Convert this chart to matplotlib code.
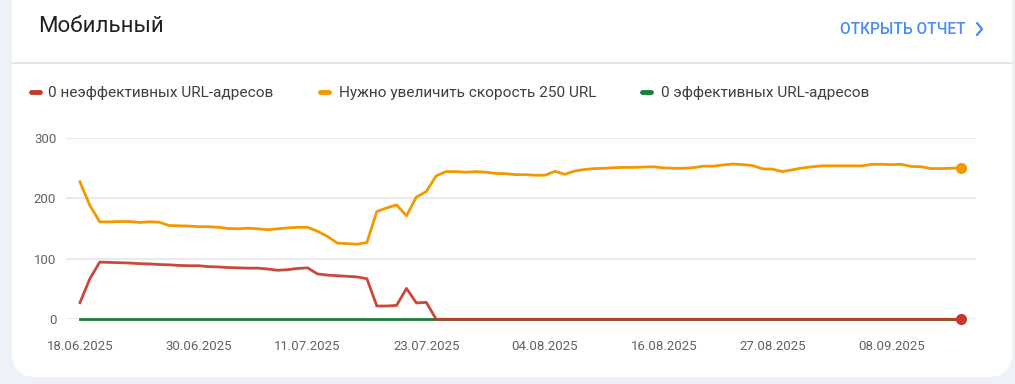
import matplotlib
matplotlib.use("Agg")
import matplotlib.pyplot as plt
import matplotlib.dates as mdates
from matplotlib.patches import FancyBboxPatch
import pandas as pd

# ---- data ----
start_date = "2025-06-18"
n_days = 90
orange_vals = [227, 188, 161, 161, 161.5, 161.5, 160, 161, 160.5, 155,
               154.5, 154, 153, 153, 152, 150, 149.5, 150.5, 149.5, 148,
               149.5, 151, 152, 152, 145.5, 137, 126, 125, 124, 127,
               178, 184, 189, 171, 202, 211, 237, 244, 244, 243,
               244, 243, 241, 240.5, 239, 239, 238, 238, 244.5, 239.5,
               245, 247.5, 249, 249.5, 250.5, 251, 251, 251.5, 252, 250,
               249.5, 249.5, 250.5, 253, 253, 255, 256.5, 255.5, 254, 248.5,
               248, 244, 247, 250, 252, 253.5, 253.5, 253.5, 253.5, 253.5,
               256, 256, 255.5, 256, 252.5, 252, 249, 249, 249.5, 250]
red_vals = [27.5, 67, 94.5, 94, 93.5, 93, 92, 91.5, 90.5, 90,
            89, 88.5, 88.5, 87, 86.5, 85.5, 85, 84.5, 84.5, 83,
            81, 82, 84, 85, 75, 73, 72, 71, 70, 67,
            22, 22, 23, 51, 27, 28] + [0] * 54
green_vals = [0] * 90
tick_dates = ["2025-06-18", "2025-06-30", "2025-07-11", "2025-07-23",
              "2025-08-04", "2025-08-16", "2025-08-27", "2025-09-08"]
tick_labels = ["18.06.2025", "30.06.2025", "11.07.2025", "23.07.2025",
               "04.08.2025", "16.08.2025", "27.08.2025", "08.09.2025"]
y_ticks = [0, 100, 200, 300]
legend_labels = ["0 неэффективных URL-адресов",
                 "Нужно увеличить скорость 250 URL",
                 "0 эффективных URL-адресов"]
title = "Мобильный"
link_text = "ОТКРЫТЬ ОТЧЕТ"

# ---- style ----
RED = "#c5392a"
ORANGE = "#f29900"
GREEN = "#188038"
BG = "#eef2f8"
W, H = 1015, 384
plt.rcParams["font.family"] = ["Roboto", "DejaVu Sans"]

fig = plt.figure(figsize=(W / 100, H / 100), dpi=100, facecolor=BG)

# background / card layer in pixel coordinates
bg = fig.add_axes([0, 0, 1, 1])
bg.set_xlim(0, W)
bg.set_ylim(H, 0)
bg.axis("off")
card = FancyBboxPatch((12, -30), 1000, 407, boxstyle="round,pad=0,rounding_size=24",
                      facecolor="white", edgecolor="none")
bg.add_patch(card)
bg.plot([12, 1012], [62.5, 62.5], color="#e0e0e0", lw=1.2)
bg.text(38, 27, title, fontsize=16, color="#202124", va="center", ha="left")
bg.text(966, 29, link_text, fontsize=11.2, color="#4c8bf5", va="center", ha="right",
        fontweight="medium")
bg.plot([977, 982, 977], [23, 29, 35], color="#4c8bf5", lw=1.6,
        solid_capstyle="round", solid_joinstyle="round")

legend_items = [(31, 48, RED), (320, 339, ORANGE), (642, 661, GREEN)]
for (mx, tx, col), lab in zip(legend_items, legend_labels):
    bg.plot([mx, mx + 9], [92, 92], color=col, lw=3.5, solid_capstyle="round")
    bg.text(tx, 92.5, lab, fontsize=11.1, color="#3c4043", va="center", ha="left")

# ---- chart ----
dates = pd.date_range(start_date, periods=n_days)
x0 = mdates.date2num(dates[0])
left_px, right_px, top_px, bot_px = 66, 975.5, 137.7, 319.3
ax = fig.add_axes([left_px / W, 1 - bot_px / H, (right_px - left_px) / W,
                   (bot_px - top_px) / H])
ax.set_facecolor("none")
ax.set_xlim(x0 - 1.41, x0 + 90.5)
ax.set_ylim(0, 300)
for s in ax.spines.values():
    s.set_visible(False)
for yv in y_ticks[1:]:
    ax.axhline(yv, color="#e8eaed", lw=1.5, zorder=0)
ax.axhline(0, color="#9aa0a6", lw=1.0, zorder=1)

ax.plot(dates, green_vals, color=GREEN, lw=2.0, zorder=3, clip_on=False)
ax.plot(dates, red_vals, color=RED, lw=2.0, zorder=4, alpha=0.92, clip_on=False,
        solid_joinstyle="round")
ax.plot(dates, orange_vals, color=ORANGE, lw=2.0, zorder=4, clip_on=False,
        solid_joinstyle="round")
ax.plot(dates[-1:], orange_vals[-1:], "o", color=ORANGE, ms=7, zorder=5, clip_on=False)
ax.plot(dates[-1:], red_vals[-1:], "o", color=RED, ms=7, zorder=5, clip_on=False)

ax.set_yticks(y_ticks)
ax.set_yticklabels([str(v) for v in y_ticks])
ax.set_xticks(pd.to_datetime(tick_dates))
ax.set_xticklabels(tick_labels)
ax.tick_params(axis="both", length=0, labelsize=9.5, labelcolor="#5f6368")
ax.tick_params(axis="x", pad=15)
ax.tick_params(axis="y", pad=7)

fig.savefig("out.png", dpi=100, facecolor=BG)
